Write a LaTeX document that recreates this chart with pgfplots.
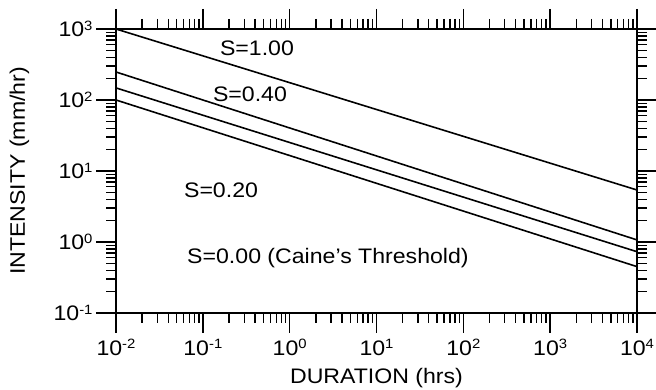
\documentclass[border=0pt]{standalone}
\usepackage{pgfplots}
\pgfplotsset{compat=1.18}
\usepackage{fontspec}
\setmainfont{Liberation Sans}[FakeStretch=1.1]
\newcommand\sups[1]{\raisebox{6.5bp}{\fontsize{13.5bp}{14bp}\selectfont #1}}
\newcommand\pw[1]{10\sups{#1}}
\begin{document}
\begin{tikzpicture}[font=\fontsize{21bp}{25bp}\selectfont]
\begin{axis}[
  name=ax,
  xmode=log, ymode=log,
  scale only axis,
  width=521bp, height=284bp,
  xmin=0.01, xmax=10000, ymin=0.1, ymax=1000,
  xtick={0.01,0.1,1,10,100,1000,10000},
  xticklabels={\pw{-2},\pw{-1},\pw{0},\pw{1},\pw{2},\pw{3},\pw{4}},
  ytick={0.1,1,10,100,1000},
  yticklabels={\pw{-1},\pw{0},\pw{1},\pw{2},\pw{3}},
  tick align=outside,
  major tick length=20bp,
  minor tick length=10bp,
  tick style={black, line width=1.4pt},
  axis line style={line width=1.8pt},
  cycle list={{black, line width=1.6pt}},
  every axis x label/.style={at={(rel axis cs:0.5,0)}, anchor=center, yshift=-65bp},
  every axis y label/.style={at={(rel axis cs:0,0.5)}, rotate=90, anchor=center, yshift=96.5bp},
  xticklabel style={yshift=-3bp},
  xlabel={DURATION (hrs)},
  ylabel={INTENSITY (mm/hr)},
  clip=false,
]
\addplot[black, line width=1.6pt] coordinates {(0.01,1000) (10000,5.4)};
\addplot[black, line width=1.6pt] coordinates {(0.01,248) (10000,1.07)};
\addplot[black, line width=1.6pt] coordinates {(0.01,148) (10000,0.73)};
\addplot[black, line width=1.6pt] coordinates {(0.01,100) (10000,0.45)};
\node at (axis cs:0.42,540) {S=1.00};
\node at (axis cs:0.349,122) {S=0.40};
\node at (axis cs:0.162,5.4) {S=0.20};
\node[anchor=west, inner sep=0pt] at (axis cs:0.0658,0.596) {S=0.00 (Caine's Threshold)};
\end{axis}
\pgfresetboundingbox
\path[use as bounding box] ([xshift=-116bp,yshift=-77bp]ax.south west) rectangle ([xshift=19bp,yshift=29bp]ax.north east);
\end{tikzpicture}
\end{document}
